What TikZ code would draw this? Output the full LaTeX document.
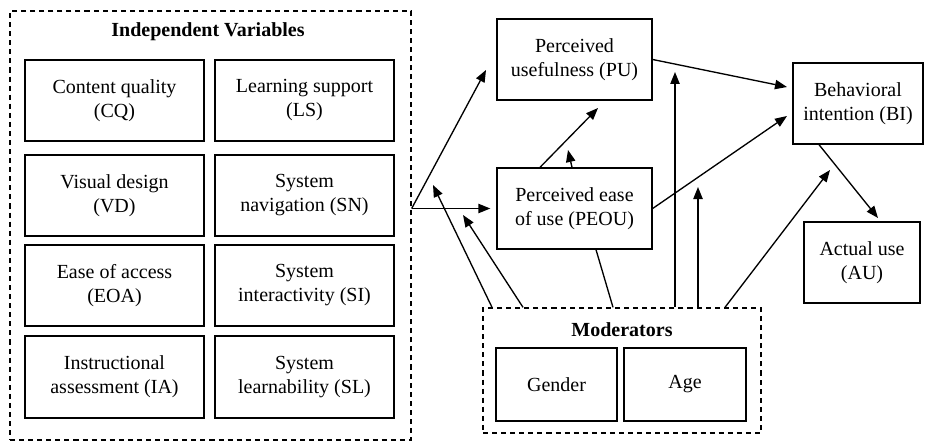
\documentclass[tikz,border=0pt]{standalone}
\usepackage{fontspec}
\setmainfont{Liberation Serif}
\usetikzlibrary{arrows.meta,calc}

\tikzset{
  var/.style={draw, line width=1pt, align=center, inner sep=0pt,
    minimum width=179*0.75pt, minimum height=81*0.75pt},
  group/.style={draw, line width=1pt, dash pattern=on 3.8pt off 3pt, inner sep=0pt},
  arr/.style={line width=1pt, -{Triangle[length=9pt,width=7pt]}},
  ln/.style={line width=1pt}
}

\begin{document}
\begin{tikzpicture}[x=0.75pt,y=-0.75pt,font=\fontsize{15}{18}\selectfont]
  \useasboundingbox (0,0) rectangle (938,442);

  % independent variables
  \node[group, minimum width=401*0.75pt, minimum height=429*0.75pt] (indep) at (210.5,225.5) {};
  \node[font=\fontsize{15}{18}\selectfont\bfseries] (indeptitle) at (208,32) {Independent Variables};

  \node[var] (CQ) at (114.5,100.5) {Content quality\\(CQ)};
  \node[var] (LS) at (304.5,100.5) {Learning support\\(LS)};
  \node[var] (VD) at (114.5,195.5) {Visual design\\(VD)};
  \node[var] (SN) at (304.5,195.5) {System\\navigation (SN)};
  \node[var] (EOA) at (114.5,285.5) {Ease of access\\(EOA)};
  \node[var] (SI) at (304.5,285.5) {System\\interactivity (SI)};
  \node[var, minimum height=82*0.75pt] (IA) at (114.5,377) {Instructional\\assessment (IA)};
  \node[var, minimum height=82*0.75pt] (SL) at (304.5,377) {System\\learnability (SL)};

  % model
  \node[var, minimum width=155*0.75pt] (PU) at (574.5,59.5) {Perceived\\usefulness (PU)};
  \node[var, minimum width=155*0.75pt] (PEOU) at (574.5,208.5) {Perceived ease\\of use (PEOU)};
  \node[var, minimum width=130*0.75pt] (BI) at (858,103.5) {Behavioral\\intention (BI)};
  \node[var, minimum width=116*0.75pt] (AU) at (862,262.5) {Actual use\\(AU)};

  % moderators
  \node[group, minimum width=278*0.75pt, minimum height=125*0.75pt] (mod) at (622,370.5) {};
  \node[font=\fontsize{15}{18}\selectfont\bfseries] (modtitle) at (622,330) {Moderators};
  \node[var, minimum width=121*0.75pt, minimum height=73*0.75pt] (gender) at (556.5,384.5) {Gender};
  \node[var, minimum width=122*0.75pt, minimum height=73*0.75pt] (age) at (685,384.5) {Age};

  % free ends
  \coordinate (split) at (indep.east |- PEOU.west);
  \coordinate (toPU) at (486,70);
  \coordinate (mA) at (433,185);
  \coordinate (mB) at (463,215);
  \coordinate (mC) at (675,72);
  \coordinate (mD) at (698,187);
  \coordinate (mE) at (830,170);
  \coordinate (eu) at (598,108);
  \coordinate (ev) at (568,150);
  \coordinate (bu) at (787,87);
  \coordinate (be) at (787,116);
  \coordinate (ba) at (878,218);

  \draw[arr] (split) -- ([xshift=-6*0.75pt]PEOU.west);
  \draw[arr] (split) -- (toPU);

  \draw[arr] (492,0 |- mod.north) -- (mA);
  \draw[arr] (523,0 |- mod.north) -- (mB);
  \draw[ln] (613,0 |- mod.north) -- (596,0 |- PEOU.south);
  \draw[arr] (675,0 |- mod.north) -- (mC);
  \draw[arr] (698,0 |- mod.north) -- (mD);
  \draw[arr] (725,0 |- mod.north) -- (mE);

  \draw[arr] (540,0 |- PEOU.north) -- (eu);
  \draw[arr] (572,0 |- PEOU.north) -- (ev);
  \draw[arr] (PU.east) -- (bu);
  \draw[arr] (PEOU.east) -- (be);
  \draw[arr] (819,0 |- BI.south) -- (ba);

\end{tikzpicture}
\end{document}
